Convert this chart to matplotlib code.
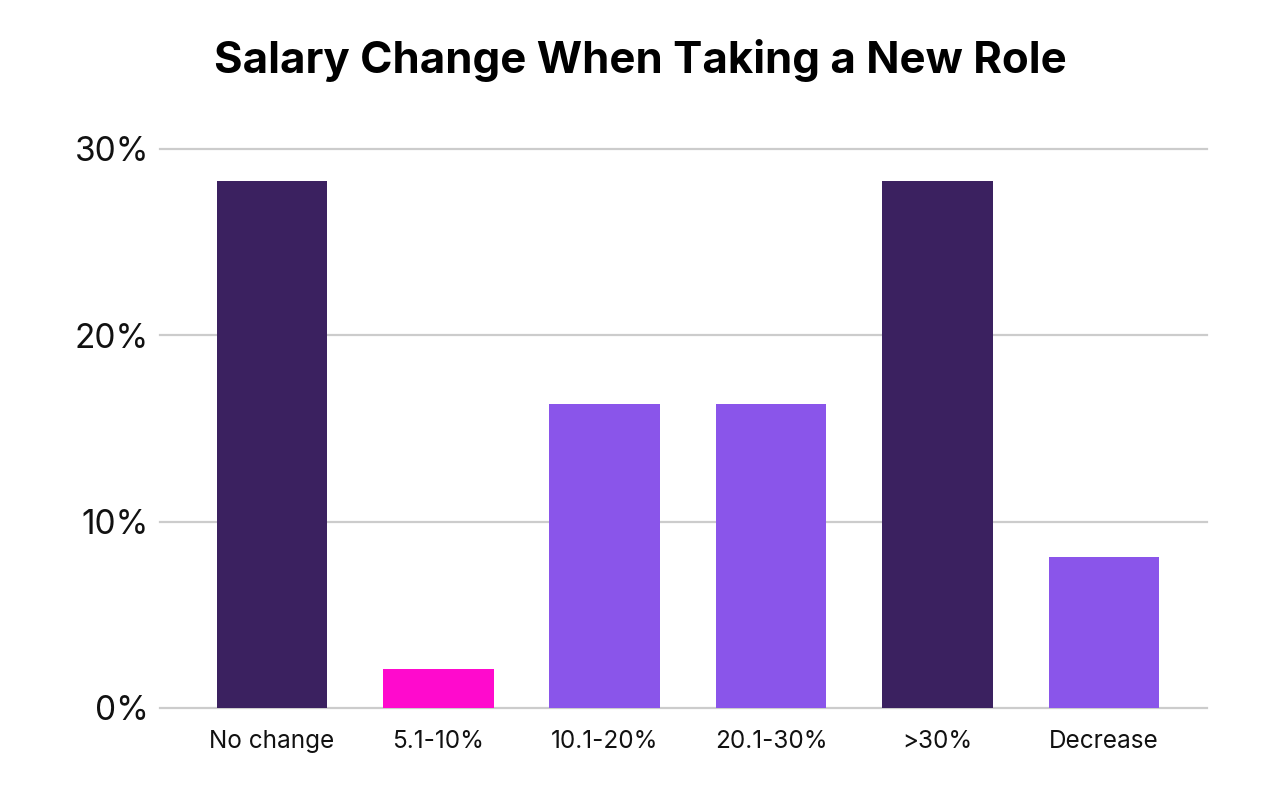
import matplotlib
matplotlib.use("Agg")
import matplotlib.pyplot as plt

categories = ["No change", "5.1-10%", "10.1-20%", "20.1-30%", ">30%", "Decrease"]
values = [28.3, 2.1, 16.3, 16.3, 28.3, 8.1]
colors = ["#3b2160", "#ff0acd", "#8a55ea", "#8a55ea", "#3b2160", "#8a55ea"]
yticks = [0, 10, 20, 30]
ytick_labels = ["0%", "10%", "20%", "30%"]

plt.rcParams['font.family'] = ['Inter', 'DejaVu Sans']

fig = plt.figure(figsize=(12.8, 8.02), dpi=100)
ax = fig.add_axes([0.125, 1 - 708 / 802, 0.943 - 0.125, (708 - 149) / 802])

x = list(range(len(categories)))
ax.bar(x, values, width=0.665, color=colors, zorder=2)
for t in yticks:
    ax.axhline(t, color="#cccccc", linewidth=1.6, zorder=1, clip_on=False)

ax.set_ylim(0, 30)
ax.set_xlim(-0.673, 5.62)
ax.set_yticks(yticks)
ax.set_yticklabels(ytick_labels, fontsize=24, color="#111111")
ax.set_xticks(x)
ax.set_xticklabels(categories, fontsize=17.5, color="#111111")
ax.tick_params(axis='y', length=0, pad=8)
ax.tick_params(axis='x', length=0, pad=16)
for s in ax.spines.values():
    s.set_visible(False)

fig.text(0.5, 1 - 61 / 802, "Salary Change When Taking a New Role", ha="center", va="center",
         fontsize=31.5, fontweight="bold", color="#000000")

fig.savefig("out.png", dpi=100, facecolor="white")
